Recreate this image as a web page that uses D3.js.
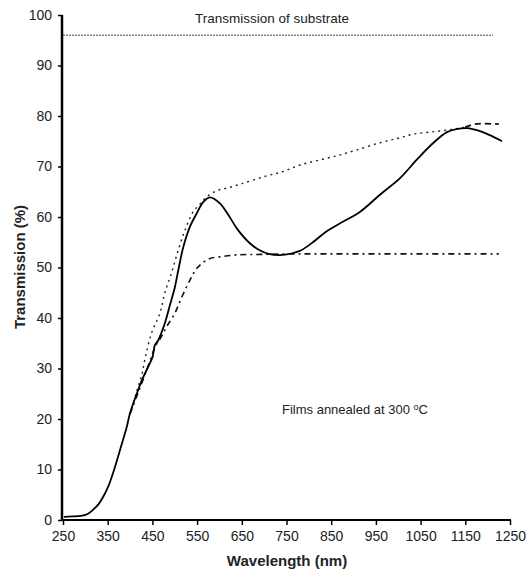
<!DOCTYPE html>
<html>
<head>
<meta charset="utf-8">
<script src="https://cdn.jsdelivr.net/npm/d3@7"></script>
<style>
  body { margin: 0; background: #fff; }
  text { font-family: "Liberation Sans", Arial, sans-serif; fill: #222; }
</style>
</head>
<body>
<div id="chart"></div>
<script>
// data
const xTicks = [250, 350, 450, 550, 650, 750, 850, 950, 1050, 1150, 1250]
const yTicks = [0, 10, 20, 30, 40, 50, 60, 70, 80, 90, 100]

const substrateT = 96
const substrateRange = [250, 1212]

const measWl = [252, 270, 290, 305, 317, 330, 340, 352, 362, 372, 382, 392, 400, 415, 428, 441, 450, 453, 455, 463, 478, 489, 500, 508, 519, 534, 549, 564, 579, 601, 620, 640, 668, 690, 710, 742, 780, 809, 840, 877, 914, 959, 1004, 1044, 1080, 1109, 1130, 1154, 1183, 1205, 1232]
const measT = [0.6, 0.7, 0.8, 1.2, 2, 3.2, 4.6, 6.8, 9.3, 12.2, 15.2, 18.2, 21.2, 25, 28, 30.4, 32.2, 33.5, 34.5, 35.6, 39, 42.5, 46, 49.5, 54, 58.1, 60.7, 63, 63.9, 62.7, 60.4, 57.6, 54.8, 53.4, 52.7, 52.5, 53.3, 55, 57.2, 59.1, 61, 64.4, 67.7, 71.6, 74.8, 76.8, 77.4, 77.6, 77, 76.2, 75]

const upperWl = [400, 415, 427, 433, 448, 467, 478, 493, 508, 523, 541, 556, 574, 597, 620, 650, 700, 742, 780, 825, 870, 908, 959, 1000, 1033, 1070, 1109, 1150]
const upperT = [21, 25.5, 29, 31.7, 37, 41, 45, 49, 53.5, 57.4, 61, 62.5, 64.2, 65.3, 65.8, 66.6, 68, 69, 70.3, 71.3, 72.3, 73.3, 74.7, 75.6, 76.4, 76.8, 77.2, 77.8]
const upperEndWl = [1150, 1172, 1225]
const upperEndT = [77.8, 78.4, 78.4]

const lowerWl = [400, 415, 430, 448, 456, 470, 482, 500, 516, 534, 549, 565, 579, 601, 639, 700, 800, 900, 1000, 1100, 1225]
const lowerT = [21, 24.5, 28, 32.3, 34.3, 36.3, 38.3, 40.9, 44.2, 47.5, 49.8, 51.1, 51.8, 52.1, 52.5, 52.6, 52.7, 52.7, 52.7, 52.7, 52.7]

// size
const W = 531, H = 575
const x = d3.scaleLinear().domain([250, 1250]).range([63, 510])
const y = d3.scaleLinear().domain([0, 100]).range([520, 15])

const svg = d3.select('#chart').append('svg')
  .attr('width', W).attr('height', H)

const zip = (a, b) => a.map((v, i) => [v, b[i]])
const line = d3.line().x(d => x(d[0])).y(d => y(d[1])).curve(d3.curveCatmullRom.alpha(0.5))

// substrate
svg.append('line')
  .attr('x1', x(substrateRange[0])).attr('x2', x(substrateRange[1]))
  .attr('y1', y(substrateT)).attr('y2', y(substrateT))
  .attr('stroke', '#444').attr('stroke-width', 1).attr('stroke-dasharray', '2,1')

// envelopes
svg.append('path').datum(zip(upperWl, upperT))
  .attr('d', line).attr('fill', 'none').attr('stroke', '#222')
  .attr('stroke-width', 1.4).attr('stroke-dasharray', '2,4')
svg.append('path').datum(zip(upperEndWl, upperEndT))
  .attr('d', line).attr('fill', 'none').attr('stroke', '#111')
  .attr('stroke-width', 1.8).attr('stroke-dasharray', '6,4')
svg.append('path').datum(zip(lowerWl, lowerT))
  .attr('d', line).attr('fill', 'none').attr('stroke', '#111')
  .attr('stroke-width', 1.6).attr('stroke-dasharray', '6,4,2,4')

// measured
svg.append('path').datum(zip(measWl, measT))
  .attr('d', line).attr('fill', 'none').attr('stroke', '#000')
  .attr('stroke-width', 1.8)

// axes
const yAxis = svg.append('g').attr('transform', 'translate(62,0)')
  .call(d3.axisLeft(y).tickValues(yTicks).tickSize(4).tickPadding(6))
const xAxis = svg.append('g').attr('transform', 'translate(0,520)')
  .call(d3.axisBottom(x).tickValues(xTicks).tickFormat(d3.format('d')).tickSize(5).tickPadding(6))
yAxis.select('.domain').attr('stroke', '#000').attr('stroke-width', 2.5)
  .attr('d', 'M0,15V521')
xAxis.select('.domain').attr('stroke', '#000').attr('stroke-width', 2)
  .attr('d', 'M61,0H511')
svg.selectAll('.tick line').attr('stroke', '#000').attr('stroke-width', 1.5)
svg.selectAll('.tick text').attr('font-size', 14)
  .attr('font-family', '"Liberation Sans", Arial, sans-serif').attr('fill', '#222')

// labels
svg.append('text')
  .attr('transform', 'translate(25,267) rotate(-90)')
  .attr('text-anchor', 'middle').attr('font-size', 15).attr('font-weight', 'bold')
  .text('Transmission (%)')
svg.append('text')
  .attr('x', 287).attr('y', 566)
  .attr('text-anchor', 'middle').attr('font-size', 15).attr('font-weight', 'bold')
  .text('Wavelength (nm)')
svg.append('text')
  .attr('x', 272).attr('y', 23)
  .attr('text-anchor', 'middle').attr('font-size', 13.5)
  .text('Transmission of substrate')

const note = svg.append('text').attr('x', 282).attr('y', 414).attr('font-size', 13)
note.append('tspan').text('Films annealed at 300 ')
note.append('tspan').attr('font-size', 9).attr('dy', -4).text('o')
note.append('tspan').attr('dy', 4).text('C')
</script>
</body>
</html>
